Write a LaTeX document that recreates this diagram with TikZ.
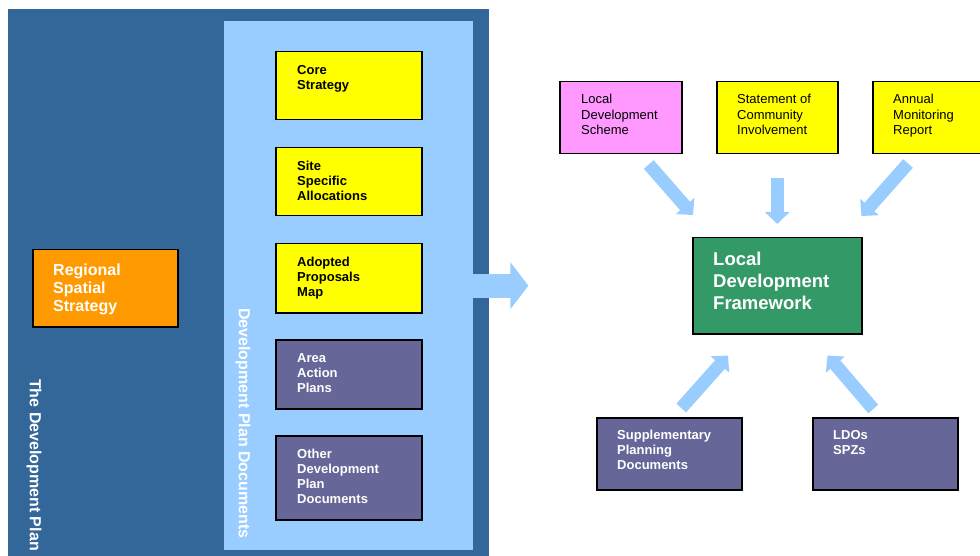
\documentclass[tikz,border=0pt]{standalone}
\usepackage{fontspec}
\setmainfont{Liberation Sans}
\usetikzlibrary{arrows.meta,calc,positioning}
\definecolor{planblue}{HTML}{336699}
\definecolor{docblue}{HTML}{99CCFF}
\definecolor{docyellow}{HTML}{FFFF00}
\definecolor{rssorange}{HTML}{FF9900}
\definecolor{docpurple}{HTML}{666699}
\definecolor{ldfgreen}{HTML}{339966}
\definecolor{ldspink}{HTML}{FF99FF}
\tikzset{
  box/.style={draw=black,line width=1.5pt,anchor=north west,inner sep=0pt},
  boxtxt/.style={anchor=north west,inner sep=0pt,align=left,font=\fontsize{13}{15}\selectfont\bfseries},
  toptxt/.style={anchor=north west,inner sep=0pt,align=left,font=\fontsize{13}{15.5}\selectfont},
  sidetxt/.style={rotate=-90,anchor=west,inner sep=0pt,text=white,font=\fontsize{16}{18}\selectfont\bfseries},
  fat/.style={docblue,line width=13pt,-{Triangle[width=24pt,length=12pt]}},
  bigarrow/.style={docblue,line width=24pt,-{Triangle[width=46pt,length=18pt]}}
}
\begin{document}
\begin{tikzpicture}[x=1pt,y=-1pt]
				\useasboundingbox (0,0) rectangle (980,556);
				\clip (0,0) rectangle (980,556);
				%%%%% THE DEVELOPMENT PLAN %%%%%
				\fill[planblue] (8,9) rectangle (489,560);
				\node[anchor=north west,inner sep=0pt,fill=docblue,minimum width=249pt,minimum height=529pt] (dpd) at (224,21) {};
				\node[sidetxt] (tdp) at (34,379) {The Development Plan};
				\node[sidetxt] (dpdlbl) at (243,308) {Development Plan Documents};

				\node[box,fill=rssorange,minimum width=145pt,minimum height=77pt] (rss) at (32,249) {};
				\node[anchor=north west,inner sep=0pt,align=left,text=white,font=\fontsize{16}{18}\selectfont\bfseries] at ([shift={(21,15)}]rss.north west) {Regional\\Spatial\\Strategy};

				\node[box,fill=docyellow,minimum width=146pt,minimum height=68pt] (core) at (275,51) {};
				\node[boxtxt] at ([shift={(22,14)}]core.north west) {Core\\Strategy};
				\node[box,fill=docyellow,minimum width=146pt,minimum height=68pt] (site) at (275,147) {};
				\node[boxtxt] at ([shift={(22,14)}]site.north west) {Site\\Specific\\Allocations};
				\node[box,fill=docyellow,minimum width=146pt,minimum height=69pt] (apm) at (275,243) {};
				\node[boxtxt] at ([shift={(22,14)}]apm.north west) {Adopted\\Proposals\\Map};
				\node[box,fill=docpurple,minimum width=146pt,minimum height=69pt] (aap) at (275,339) {};
				\node[boxtxt,text=white] at ([shift={(22,14)}]aap.north west) {Area\\Action\\Plans};
				\node[box,fill=docpurple,minimum width=146pt,minimum height=84pt] (odpd) at (275,435) {};
				\node[boxtxt,text=white] at ([shift={(22,14)}]odpd.north west) {Other\\Development\\Plan\\Documents};

				\draw[bigarrow] ([xshift=-1pt]dpd.east) -- ++(56,0);

				%%%%% LOCAL DEVELOPMENT FRAMEWORK %%%%%
				\node[box,fill=ldspink,minimum width=122pt,minimum height=72pt] (lds) at (559,81) {};
				\node[toptxt] at ([shift={(22,13)}]lds.north west) {Local\\Development\\Scheme};
				\node[box,fill=docyellow,minimum width=121pt,minimum height=72pt] (sci) at (716,81) {};
				\node[toptxt] at ([shift={(21,13)}]sci.north west) {Statement of\\Community\\Involvement};
				\node[box,fill=docyellow,minimum width=122pt,minimum height=72pt] (amr) at (872,81) {};
				\node[toptxt] at ([shift={(21,13)}]amr.north west) {Annual\\Monitoring\\Report};

				\node[box,fill=ldfgreen,minimum width=169pt,minimum height=96pt] (ldf) at (692,237) {};
				\node[anchor=north west,inner sep=0pt,align=left,text=white,font=\fontsize{18.5}{21.7}\selectfont\bfseries] at ([shift={(21,15)}]ldf.north west) {Local\\Development\\Framework};

				\node[box,fill=docpurple,minimum width=145pt,minimum height=72pt] (spd) at (596,417) {};
				\node[boxtxt,text=white] at ([shift={(21,13)}]spd.north west) {Supplementary\\Planning\\Documents};
				\node[box,fill=docpurple,minimum width=145pt,minimum height=72pt] (ldo) at (812,417) {};
				\node[boxtxt,text=white] at ([shift={(21,13)}]ldo.north west) {LDOs\\SPZs};

				\draw[fat] ($(lds.south)+(28,10)$) -- ($(ldf.north west)+(1,-22)$);
				\draw[fat] ($(sci.south)+(0,24)$) -- ($(ldf.north)+(0,-13)$);
				\draw[fat] ($(amr.south west)+(36,9)$) -- ($(ldf.north east)+(-1,-21)$);
				\draw[fat] ($(spd.north)+(12,-9)$) -- ($(ldf.south west)+(36,21)$);
				\draw[fat] ($(ldo.north)+(-12,-8)$) -- ($(ldf.south east)+(-35,21)$);
\end{tikzpicture}
\end{document}
